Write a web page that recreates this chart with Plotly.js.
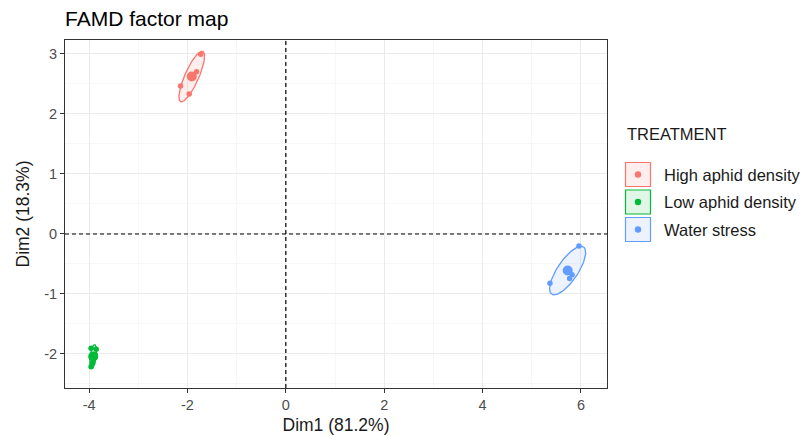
<!DOCTYPE html>
<html>
<head>
<meta charset="utf-8">
<script src="https://cdn.plot.ly/plotly-3.0.1.min.js"></script>
<style>html,body{margin:0;padding:0;background:#fff;}#chart{width:804px;height:436px;}</style>
</head>
<body>
<div id="chart"></div>
<script>
// ---- data ----
var groups = ["High aphid density", "Low aphid density", "Water stress"];
var colors = ["#F8766D", "#00BA38", "#619CFF"];
var fills  = ["rgba(248,118,109,0.12)", "rgba(0,186,56,0.12)", "rgba(97,156,255,0.12)"];

var highDim1  = [-1.73, -1.815, -2.14, -1.965];
var highDim2  = [2.995, 2.705, 2.467, 2.333];
var lowDim1   = [-3.96, -3.856, -3.876, -3.96, -3.93];
var lowDim2   = [-1.905, -1.922, -2.017, -2.212, -2.15];
var waterDim1 = [5.96, 5.37, 5.82, 5.77];
var waterDim2 = [-0.20, -0.82, -0.68, -0.74];

var xTicks = [-4, -2, 0, 2, 4, 6];
var yTicks = [-2, -1, 0, 1, 2, 3];
var xLabel = "Dim1 (81.2%)";
var yLabel = "Dim2 (18.3%)";
var chartTitle = "FAMD factor map";
var legendTitle = "TREATMENT";

var dim1 = [highDim1, lowDim1, waterDim1];
var dim2 = [highDim2, lowDim2, waterDim2];

// ---- helpers ----
function mean(a){ var s=0; for (var i=0;i<a.length;i++) s+=a[i]; return s/a.length; }
function ellipse(xs, ys, k){
  var mx=mean(xs), my=mean(ys), n=xs.length;
  var sxx=0, syy=0, sxy=0;
  for (var i=0;i<n;i++){ var dx=xs[i]-mx, dy=ys[i]-my; sxx+=dx*dx; syy+=dy*dy; sxy+=dx*dy; }
  sxx/=(n-1); syy/=(n-1); sxy/=(n-1);
  var tr=sxx+syy, det=sxx*syy-sxy*sxy;
  var l1=tr/2+Math.sqrt(tr*tr/4-det), l2=Math.max(tr/2-Math.sqrt(tr*tr/4-det), 1e-6);
  var ang = Math.atan2(l1-sxx, sxy);
  if (Math.abs(sxy) < 1e-12) ang = (sxx>=syy)?0:Math.PI/2;
  var a=k*Math.sqrt(l1), b=k*Math.sqrt(l2);
  var ex=[], ey=[];
  for (var t=0;t<=100;t++){
    var th=2*Math.PI*t/100, c=Math.cos(th)*a, s=Math.sin(th)*b;
    ex.push(mx + c*Math.cos(ang) - s*Math.sin(ang));
    ey.push(my + c*Math.sin(ang) + s*Math.cos(ang));
  }
  return {x:ex, y:ey};
}

var traces = [];
for (var g=0; g<groups.length; g++){
  var e = ellipse(dim1[g], dim2[g], 1.45);
  traces.push({type:"scatter", mode:"lines", x:e.x, y:e.y, fill:"toself",
    fillcolor:fills[g], line:{color:colors[g], width:1.3}, hoverinfo:"skip", showlegend:false});
  traces.push({type:"scatter", mode:"markers", x:dim1[g], y:dim2[g], name:groups[g],
    marker:{color:colors[g], size:5.5}, showlegend:false});
  traces.push({type:"scatter", mode:"markers", x:[mean(dim1[g])], y:[mean(dim2[g])], name:groups[g],
    marker:{color:colors[g], size:10}, showlegend:false});
}

// plot area in pixels
var L=65, R=607, T=40, B=388, W=804, H=436;
function px(xp){ return (xp-L)/(R-L); }
function py(yp){ return (B-yp)/(B-T); }

var shapes = [
  {type:"line", xref:"x", yref:"paper", x0:0, x1:0, y0:0, y1:1, line:{color:"#000", width:1.2, dash:"4px,3px"}},
  {type:"line", xref:"paper", yref:"y", x0:0, x1:1, y0:0, y1:0, line:{color:"#000", width:1.2, dash:"4px,3px"}}
];
var annotations = [
  {xref:"paper", yref:"paper", x:px(625), y:py(134), xanchor:"left", yanchor:"middle", showarrow:false,
   text:legendTitle, font:{family:"Liberation Sans, Arial, sans-serif", size:16.5, color:"#1a1a1a"}}
];
var keyCY = [174.5, 202, 229.5];
for (var g=0; g<groups.length; g++){
  var cy = keyCY[g];
  shapes.push({type:"rect", xref:"paper", yref:"paper", x0:px(625.5), x1:px(650.5), y0:py(cy+12), y1:py(cy-12),
    fillcolor:fills[g], line:{color:colors[g], width:1.2}});
  shapes.push({type:"circle", xref:"paper", yref:"paper", x0:px(638-3.2), x1:px(638+3.2), y0:py(cy+3.2), y1:py(cy-3.2),
    fillcolor:colors[g], line:{width:0}});
  annotations.push({xref:"paper", yref:"paper", x:px(662), y:py(cy), xanchor:"left", yanchor:"middle", showarrow:false,
    text:groups[g], font:{family:"Liberation Sans, Arial, sans-serif", size:16.5, color:"#1a1a1a"}});
}

var axisCommon = {
  showline:true, mirror:true, linecolor:"#333333", linewidth:1,
  showgrid:true, gridcolor:"#EBEBEB", gridwidth:1,
  zeroline:false, ticks:"outside", ticklen:4, tickwidth:1, tickcolor:"#333333",
  tickfont:{family:"Liberation Sans, Arial, sans-serif", size:14.5, color:"#4D4D4D"}
};

var layout = {
  width:W, height:H,
  margin:{l:L, r:W-R, t:T, b:H-B, pad:0},
  paper_bgcolor:"#fff", plot_bgcolor:"#fff",
  showlegend:false,
  title:{text:chartTitle, x:L/W, xanchor:"left", xref:"container", y:1-19/H, yanchor:"middle", yref:"container",
         font:{family:"Liberation Sans, Arial, sans-serif", size:21, color:"#000"}},
  xaxis:Object.assign({}, axisCommon, {range:[-4.49, 6.53], tickvals:xTicks, ticktext:xTicks.map(String),
    minor:{showgrid:true, gridcolor:"#F2F2F2", gridwidth:0.6, dtick:1, tick0:-5},
    title:{text:xLabel, standoff:6, font:{family:"Liberation Sans, Arial, sans-serif", size:17.5, color:"#1a1a1a"}}}),
  yaxis:Object.assign({}, axisCommon, {range:[-2.567, 3.233], tickvals:yTicks, ticktext:yTicks.map(String),
    minor:{showgrid:true, gridcolor:"#F2F2F2", gridwidth:0.6, dtick:1, tick0:-2.5},
    title:{text:yLabel, standoff:10, font:{family:"Liberation Sans, Arial, sans-serif", size:17.5, color:"#1a1a1a"}}}),
  shapes:shapes,
  annotations:annotations
};

Plotly.newPlot("chart", traces, layout, {staticPlot:true, displayModeBar:false});
</script>
</body>
</html>
